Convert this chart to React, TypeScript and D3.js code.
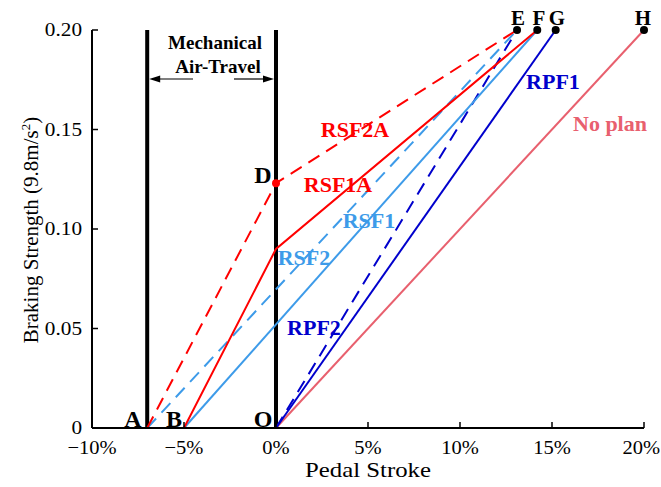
import React from 'react';
import * as d3 from 'd3';

// axis ticks
const xTicks = [-10, -5, 0, 5, 10, 15, 20];
const yTicks = [0, 0.05, 0.1, 0.15, 0.2];

// key stroke positions (%) and strengths
const pA = -7;
const pB = -5;
const pO = 0;
const pE = 13.1;
const pF = 14.2;
const pG = 15.2;
const pH = 20;
const topY = 0.2;
const dY = 0.123;
const kinkY = 0.09;

// series
const rsf2a = [[pA, 0], [pO, dY], [pE, topY]];
const rsf1a = [[pB, 0], [pO, kinkY], [pF, topY]];
const rsf2 = [[pA, 0], [pE, topY]];
const rsf1 = [[pB, 0], [pF, topY]];
const rpf2 = [[pO, 0], [pE, topY]];
const rpf1 = [[pO, 0], [pG, topY]];
const noPlan = [[pO, 0], [pH, topY]];

const red = '#ff0000';
const lightBlue = '#3d9be9';
const darkBlue = '#0000cc';
const pink = '#e8606e';

const series = [
  { name: 'No plan', data: noPlan, color: pink, dash: null },
  { name: 'RPF1', data: rpf1, color: darkBlue, dash: null },
  { name: 'RPF2', data: rpf2, color: darkBlue, dash: '13 8' },
  { name: 'RSF1', data: rsf1, color: lightBlue, dash: null },
  { name: 'RSF2', data: rsf2, color: lightBlue, dash: '13 8' },
  { name: 'RSF1A', data: rsf1a, color: red, dash: null },
  { name: 'RSF2A', data: rsf2a, color: red, dash: '13 8' },
];

const font = '"Liberation Serif", "Times New Roman", serif';

// text with a bit of horizontal stretch, like the source image
const T = ({ x, y, sx = 1, children, ...rest }: any) => (
  <text transform={`translate(${x},${y}) scale(${sx},1)`} {...rest}>{children}</text>
);

export default function App() {
  const width = 661;
  const height = 487;
  const x = d3.scaleLinear().domain([-10, 20]).range([92, 644]);
  const y = d3.scaleLinear().domain([0, 0.2]).range([428, 30]);
  const line = d3.line<number[]>().x(d => x(d[0])).y(d => y(d[1]));

  const fmtX = (v: number) => (v < 0 ? '\u2212' + Math.abs(v) : v) + '%';
  const fmtY = (v: number) => (v === 0 ? '0' : v.toFixed(2));

  const seriesLabels = [
    { t: 'RSF2A', c: red, x: 355, y: 137 },
    { t: 'RSF1A', c: red, x: 338, y: 192 },
    { t: 'RSF1', c: lightBlue, x: 369, y: 228 },
    { t: 'RSF2', c: lightBlue, x: 304, y: 265 },
    { t: 'RPF2', c: darkBlue, x: 314, y: 335 },
    { t: 'RPF1', c: darkBlue, x: 553, y: 89 },
    { t: 'No plan', c: pink, x: 610, y: 131 },
  ];

  const pointLabels = [
    { t: 'A', x: 133, y: 427, s: 24 },
    { t: 'B', x: 174, y: 427, s: 24 },
    { t: 'O', x: 263, y: 427, s: 24 },
    { t: 'D', x: 263, y: 183, s: 24 },
    { t: 'E', x: 518, y: 25, s: 21 },
    { t: 'F', x: 539, y: 25, s: 21 },
    { t: 'G', x: 557, y: 25, s: 21 },
    { t: 'H', x: 643, y: 25, s: 21 },
  ];

  const arrowY = 79;
  const xa = x(pA) + 2;
  const xo = x(pO) - 2;

  return (
    <svg width={width} height={height} style={{ position: 'absolute', left: 0, top: 0, background: '#fff' }} fontFamily={font}>
      {/* mechanical air-travel bars */}
      <line x1={x(pA)} x2={x(pA)} y1={y(0)} y2={y(topY)} stroke="#000" strokeWidth={4} />
      <line x1={x(pO)} x2={x(pO)} y1={y(0)} y2={y(topY)} stroke="#000" strokeWidth={4} />

      {/* series */}
      {series.map(s => (
        <path key={s.name} d={line(s.data) || ''} fill="none" stroke={s.color} strokeWidth={2}
          strokeDasharray={s.dash || undefined} />
      ))}

      {/* axes */}
      <line x1={x(-10)} x2={x(20)} y1={y(0)} y2={y(0)} stroke="#000" strokeWidth={2} />
      <line x1={x(-10)} x2={x(-10)} y1={y(0)} y2={y(0.2)} stroke="#000" strokeWidth={2} />
      {xTicks.map((v, i) => {
        const last = i === xTicks.length - 1;
        return (
          <g key={'x' + v}>
            <line x1={x(v)} x2={x(v)} y1={y(0)} y2={y(0) - 6} stroke="#000" strokeWidth={1.5} />
            <T x={last ? 660 : x(v)} y={454} sx={1.08} fontSize={19}
              textAnchor={last ? 'end' : 'middle'}>{fmtX(v)}</T>
          </g>
        );
      })}
      {yTicks.map(v => (
        <g key={'y' + v}>
          <line x1={x(-10)} x2={x(-10) + 6} y1={y(v)} y2={y(v)} stroke="#000" strokeWidth={1.5} />
          <T x={82} y={y(v) + 6} sx={1.18} fontSize={18} textAnchor="end">{fmtY(v)}</T>
        </g>
      ))}
      <T x={368} y={477} sx={1.18} fontSize={21} textAnchor="middle">Pedal Stroke</T>
      <text transform="translate(38,230) rotate(-90)" fontSize={21} textAnchor="middle">
        Braking Strength (9.8m/s<tspan dy={-8} fontSize={13}>2</tspan><tspan dy={8}>)</tspan>
      </text>

      {/* annotation */}
      <text x={215} y={49} fontSize={19} fontWeight="bold" textAnchor="middle">Mechanical</text>
      <text x={218} y={73} fontSize={19} fontWeight="bold" textAnchor="middle">Air-Travel</text>
      <line x1={193} x2={xa + 8} y1={arrowY} y2={arrowY} stroke="#000" strokeWidth={1.2} />
      <path d={`M${xa},${arrowY} l11,-3.5 v7 z`} fill="#000" />
      <line x1={234} x2={xo - 8} y1={arrowY} y2={arrowY} stroke="#000" strokeWidth={1.2} />
      <path d={`M${xo},${arrowY} l-11,-3.5 v7 z`} fill="#000" />

      {/* key points */}
      <circle cx={x(pO)} cy={y(dY)} r={4} fill={red} />
      {[pE, pF, pG, pH].map(p => (
        <circle key={'pt' + p} cx={x(p)} cy={y(topY)} r={4} fill="#000" />
      ))}
      {pointLabels.map(p => (
        <text key={p.t} x={p.x} y={p.y} fontSize={p.s} fontWeight="bold" textAnchor="middle">{p.t}</text>
      ))}
      {seriesLabels.map(l => (
        <text key={l.t} x={l.x} y={l.y} fontSize={22} fontWeight="bold" fill={l.c} textAnchor="middle">{l.t}</text>
      ))}
    </svg>
  );
}
